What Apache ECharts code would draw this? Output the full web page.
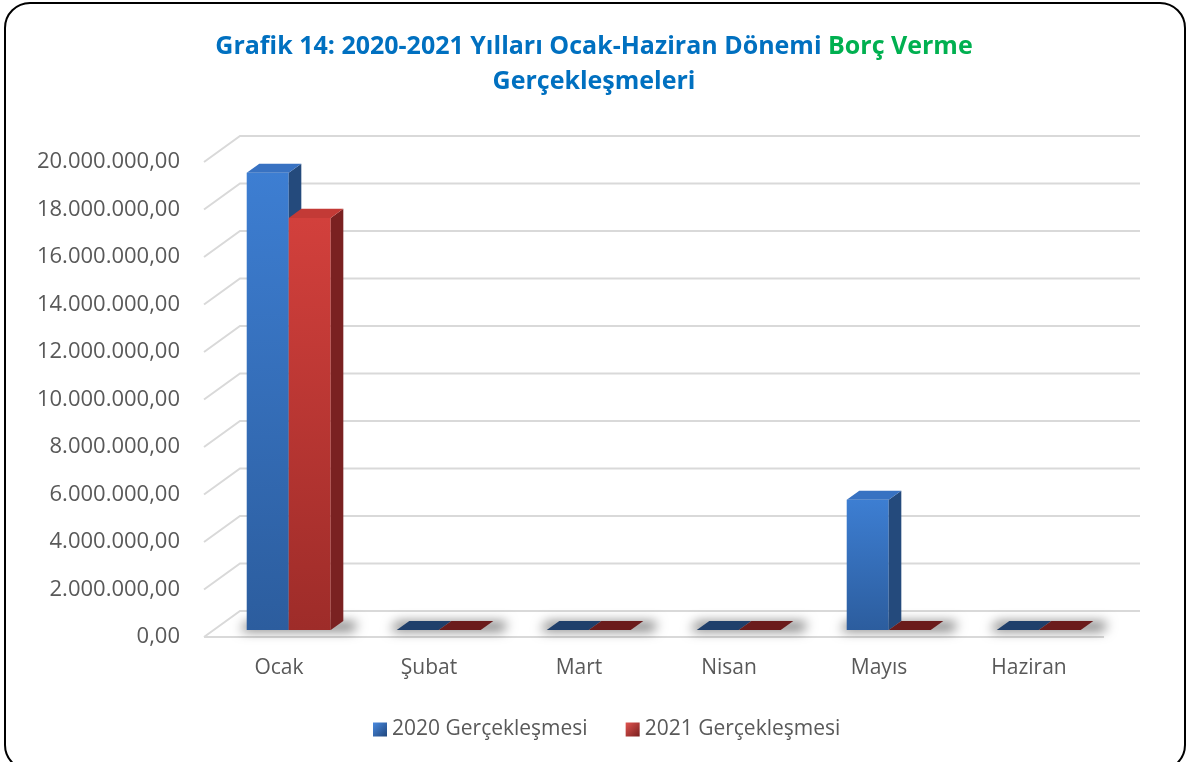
<!DOCTYPE html>
<html>
<head>
<meta charset="utf-8">
<script src="https://cdn.jsdelivr.net/npm/echarts@6/dist/echarts.min.js"></script>
<style>
  html, body { margin: 0; padding: 0; background: #fff; }
  #chart { width: 1188px; height: 762px; }
</style>
</head>
<body>
<div id="chart"></div>
<script>
const months = ['Ocak', 'Şubat', 'Mart', 'Nisan', 'Mayıs', 'Haziran'];
const real2020 = [19250000, 0, 0, 0, 5480000, 0];
const real2021 = [17350000, 0, 0, 0, 0, 0];
const yTicks = [0, 2000000, 4000000, 6000000, 8000000, 10000000, 12000000, 14000000, 16000000, 18000000, 20000000];
const seriesNames = ['2020 Gerçekleşmesi', '2021 Gerçekleşmesi'];

// oblique "3d" depth of the plot box
const DX = 36, DY = -26;
const FRONT = 0.27, BACK = 0.62;
const OFF = 3000; // shadow shapes are drawn off screen, only their blur lands on the chart

function trNumber(v) {
    let s = Math.round(v).toString();
    s = s.replace(/\B(?=(\d{3})+(?!\d))/g, '.');
    return s + ',00';
}

const blue = {
    front: new echarts.graphic.LinearGradient(0, 0, 0, 1, [
        { offset: 0, color: '#3d7ed2' }, { offset: 1, color: '#2c5d9e' }]),
    side: '#244a7c',
    top: '#3872c2',
    flat: '#1f3f6b'
};
const red = {
    front: new echarts.graphic.LinearGradient(0, 0, 0, 1, [
        { offset: 0, color: '#d2403c' }, { offset: 1, color: '#9e2c29' }]),
    side: '#7a2121',
    top: '#c33a36',
    flat: '#6b1c1c'
};

function barRenderer(side, c) {
    return function (params, api) {
        let idx = api.value(0);
        let v = api.value(1);
        let base = api.coord([idx, 0]);
        let top = api.coord([idx, v]);
        let band = api.size([1, 0])[0];
        let w = band * 0.28;
        let ddx = DX * (BACK - FRONT), ddy = DY * (BACK - FRONT);
        let x0 = base[0] + DX * FRONT + (side === 0 ? -w : 0);
        let x1 = x0 + w;
        let yb = base[1] + DY * FRONT;
        let yt = top[1] + DY * FRONT;
        let flat = (yb - yt) < 1;
        let kids = [];
        if (!flat) {
            kids.push({
                type: 'rect',
                shape: { x: x0, y: yt, width: w, height: yb - yt },
                style: { fill: c.front }
            });
            kids.push({
                type: 'polygon',
                shape: { points: [[x1, yt], [x1 + ddx, yt + ddy], [x1 + ddx, yb + ddy], [x1, yb]] },
                style: { fill: c.side }
            });
        }
        kids.push({
            type: 'polygon',
            shape: { points: [[x0, yt], [x0 + ddx, yt + ddy], [x1 + ddx, yt + ddy], [x1, yt]] },
            style: { fill: flat ? c.flat : c.top }
        });
        return { type: 'group', children: kids };
    };
}

function renderShadow(params, api) {
    let base = api.coord([api.value(0), 0]);
    let band = api.size([1, 0])[0];
    let w = band * 0.28;
    let x0 = base[0] + DX * FRONT - w;
    let x1 = base[0] + DX * FRONT + w + DX * (BACK - FRONT);
    let yb = base[1] + DY * FRONT;
    let yk = yb + DY * (BACK - FRONT);
    let pts = [[x0 - 6, yb + 1], [x1 + 10, yb + 1], [x1 + 14, yk + 1], [x0, yk + 1]];
    return {
        type: 'polygon',
        shape: { points: pts.map(p => [p[0] - OFF, p[1]]) },
        style: {
            fill: '#000',
            shadowBlur: 12,
            shadowOffsetX: OFF,
            shadowColor: 'rgba(0,0,0,0.55)'
        }
    };
}

function renderWalls(params, api) {
    let cs = params.coordSys;
    let y = api.coord([0, api.value(1)])[1];
    let kids = [{
        type: 'polyline',
        shape: { points: [[cs.x, y], [cs.x + DX, y + DY], [cs.x + cs.width + DX, y + DY]] },
        style: { stroke: '#d9d9d9', lineWidth: 2, fill: null }
    }];
    if (api.value(1) === 0) {
        kids.push({
            type: 'line',
            shape: { x1: cs.x, y1: y, x2: cs.x + cs.width, y2: y },
            style: { stroke: '#d9d9d9', lineWidth: 2 }
        });
    }
    return { type: 'group', children: kids };
}

let myChart = echarts.init(document.getElementById('chart'), null, { renderer: 'canvas' });

option = {
    animation: false,
    title: {
        left: 'center',
        top: 24,
        text: '{a|Grafik 14: 2020-2021 Yılları Ocak-Haziran Dönemi }{b|Borç Verme}\n{a|Gerçekleşmeleri}',
        textStyle: {
            rich: {
                a: { color: '#0070c0', fontFamily: 'Open Sans', fontWeight: 'bold', fontSize: 25, lineHeight: 35 },
                b: { color: '#00b050', fontFamily: 'Open Sans', fontWeight: 'bold', fontSize: 25, lineHeight: 35 }
            }
        }
    },
    legend: {
        bottom: 17,
        left: 368,
        data: seriesNames,
        icon: 'rect',
        itemWidth: 14,
        itemHeight: 14,
        itemGap: 38,
        textStyle: { color: '#595959', fontFamily: 'Open Sans', fontSize: 21 }
    },
    grid: { left: 204, right: 84, top: 162, bottom: 125, containLabel: false },
    xAxis: {
        type: 'category',
        data: months,
        axisLine: { show: false },
        axisTick: { show: false },
        axisLabel: { color: '#595959', fontFamily: 'Open Sans', fontSize: 21, margin: 21 }
    },
    yAxis: {
        type: 'value',
        min: 0,
        max: 20000000,
        interval: 2000000,
        splitLine: { show: false },
        axisLine: { show: false },
        axisTick: { show: false },
        axisLabel: { color: '#595959', fontFamily: 'Open Sans', fontSize: 22, margin: 24, formatter: trNumber }
    },
    graphic: [{
        type: 'rect',
        shape: { x: 5, y: 3, width: 1180, height: 767, r: 25 },
        style: { fill: null, stroke: '#000', lineWidth: 2 },
        silent: true
    }],
    series: [
        {
            type: 'custom',
            name: 'walls',
            z: 1,
            renderItem: renderWalls,
            data: yTicks.map(v => [0, v]),
            silent: true
        },
        {
            type: 'custom',
            name: 'shadow',
            z: 1,
            renderItem: renderShadow,
            data: months.map((m, i) => [i, 0]),
            silent: true
        },
        {
            type: 'custom',
            name: seriesNames[0],
            z: 2,
            itemStyle: { color: new echarts.graphic.LinearGradient(0, 0, 1, 1, [
                { offset: 0, color: '#4a8ae0' }, { offset: 1, color: '#1f467c' }]) },
            renderItem: barRenderer(0, blue),
            data: real2020.map((v, i) => [i, v])
        },
        {
            type: 'custom',
            name: seriesNames[1],
            z: 2,
            itemStyle: { color: new echarts.graphic.LinearGradient(0, 0, 1, 1, [
                { offset: 0, color: '#e05450' }, { offset: 1, color: '#7a1f1f' }]) },
            renderItem: barRenderer(1, red),
            data: real2021.map((v, i) => [i, v])
        }
    ]
};

if (option && typeof option === 'object') {
    myChart.setOption(option);
}
window.addEventListener('resize', myChart.resize);
</script>
</body>
</html>
